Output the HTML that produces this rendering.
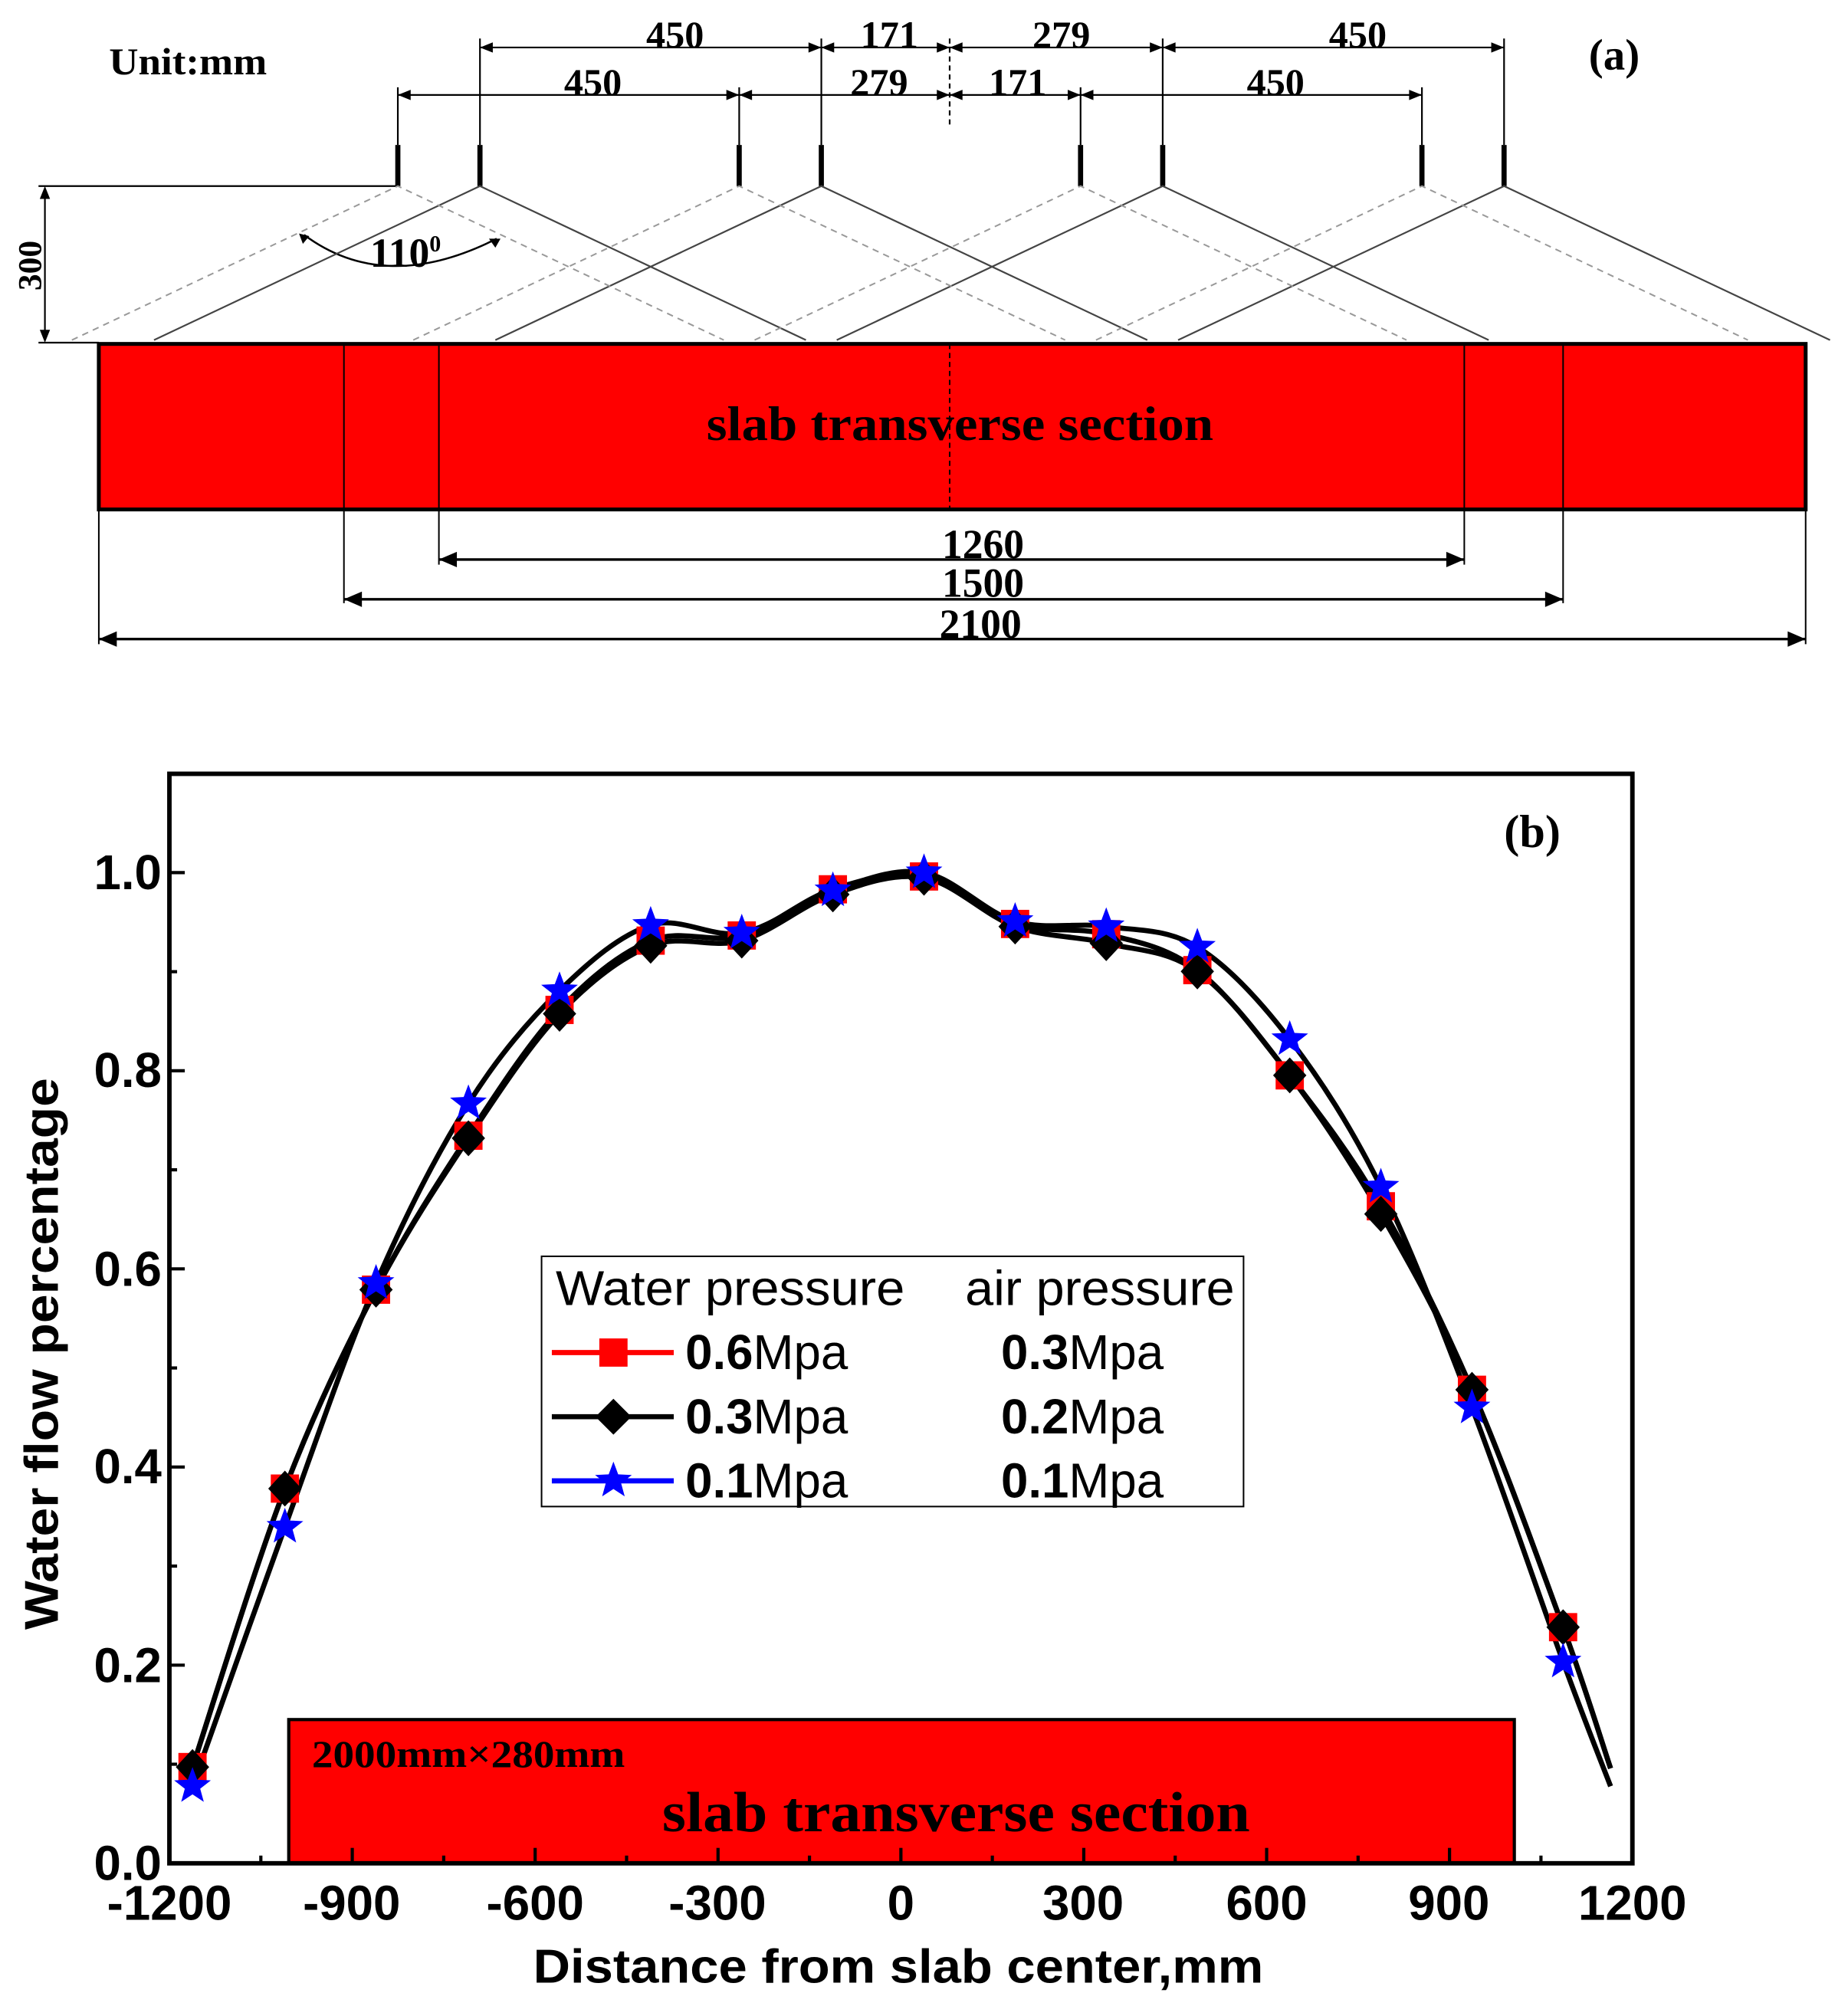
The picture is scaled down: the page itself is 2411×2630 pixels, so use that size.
<!DOCTYPE html>
<html><head><meta charset="utf-8"><style>html,body{margin:0;padding:0;background:#fff}svg{display:block}</style></head>
<body>
<svg id="s" xmlns="http://www.w3.org/2000/svg" width="2411" height="2630" viewBox="0 0 1440 1571" preserveAspectRatio="none">
<rect width="1440" height="1571" fill="#fff"/>
<g font-family="Liberation Serif, serif" font-weight="bold" fill="#000">
<text x="85" y="58" font-size="30" textLength="123" lengthAdjust="spacingAndGlyphs">Unit:mm</text>
<text x="1238" y="54" font-size="34">(a)</text>
</g>
<g stroke="#000" stroke-width="1.3" fill="none">
<path d="M374 30V113M640 30V113M906 30V113M1172 30V113M310 68V113M576 68V113M842 68V113M1108 68V113"/>
<path d="M740 30V100" stroke-dasharray="4,3"/>
<path d="M374 37H640M640 37H740M740 37H906M906 37H1172M310 74H576M576 74H740M740 74H842M842 74H1108"/>
<path d="M30 145H310M35 147V265M30 267H77"/>
</g>
<g fill="#000">
<path d="M374 37l10-4v8zM640 37l-10-4v8zM640 37l10-4v8zM740 37l-10-4v8zM740 37l10-4v8zM906 37l-10-4v8zM906 37l10-4v8zM1172 37l-10-4v8z"/>
<path d="M310 74l10-4v8zM576 74l-10-4v8zM576 74l10-4v8zM740 74l-10-4v8zM740 74l10-4v8zM842 74l-10-4v8zM842 74l10-4v8zM1108 74l-10-4v8z"/>
<path d="M35 145l-4 10h8zM35 267l-4-10h8z"/>
<path d="M233 182l8 2l-5 6zM390 186l-9 0l5 7z"/>
</g>
<g stroke="#000" stroke-width="4">
<path d="M310 113V145M374 113V145M576 113V145M640 113V145M842 113V145M906 113V145M1108 113V145M1172 113V145"/>
</g>
<g font-family="Liberation Serif, serif" font-weight="bold" font-size="30" fill="#000" text-anchor="middle">
<text x="526" y="37">450</text><text x="693" y="37">171</text><text x="827" y="37">279</text><text x="1058" y="37">450</text>
<text x="462" y="74">450</text><text x="685" y="74">279</text><text x="793" y="74">171</text><text x="994" y="74">450</text>
<text x="316" y="208" font-size="32">110<tspan font-size="18" dy="-12">0</tspan></text>
<text transform="translate(32,207) rotate(-90)" font-size="26">300</text>
</g>
<path d="M237 183Q300 230 387 186" stroke="#000" stroke-width="1.5" fill="none"/>
<g stroke="#444" stroke-width="1.3" fill="none">
<path d="M120 265L374 145L628 265M386 265L640 145L894 265M652 265L906 145L1160 265M918 265L1172 145L1426 265"/>
</g>
<g stroke="#999" stroke-width="1.2" fill="none" stroke-dasharray="5,4">
<path d="M56 265L310 145L564 265M322 265L576 145L830 265M588 265L842 145L1096 265M854 265L1108 145L1362 265"/>
</g>
<rect x="77" y="268" width="1330" height="129" fill="#ff0000" stroke="#000" stroke-width="3"/>
<g stroke="#000" stroke-width="1.2">
<path d="M268 268V470M342 268V440M1141 268V440M1218 268V470M77 397V502M1407 397V502"/>
<path d="M740 268V397" stroke-dasharray="4,3"/>
<path d="M342 436H1141M268 467H1218M77 498H1407" stroke-width="2"/>
</g>
<g fill="#000">
<path d="M342 436l14-6v12zM1141 436l-14-6v12zM268 467l14-6v12zM1218 467l-14-6v12zM77 498l14-6v12zM1407 498l-14-6v12z"/>
</g>
<g font-family="Liberation Serif, serif" font-weight="bold" fill="#000" text-anchor="middle">
<text x="748" y="343" font-size="38" textLength="395" lengthAdjust="spacingAndGlyphs">slab transverse section</text>
<text x="766" y="435" font-size="32">1260</text>
<text x="766" y="465" font-size="32">1500</text>
<text x="764" y="497" font-size="32">2100</text>
</g>

<rect x="225" y="1340" width="955" height="112" fill="#ff0000" stroke="#000" stroke-width="2.5"/>
<g font-family="Liberation Serif, serif" font-weight="bold" fill="#000">
<text x="243" y="1377" font-size="30" textLength="244" lengthAdjust="spacingAndGlyphs">2000mm×280mm</text>
<text x="745" y="1427" font-size="44" text-anchor="middle" textLength="458" lengthAdjust="spacingAndGlyphs">slab transverse section</text>
<text x="1172" y="660" font-size="36">(b)</text>
</g>
<g id="curves"></g>
<rect x="132" y="603" width="1140" height="849" fill="none" stroke="#000" stroke-width="3.5"/>
<g id="ticks" stroke="#000" stroke-width="2.5"></g>
<g font-family="Liberation Sans, sans-serif" font-weight="bold" font-size="38" fill="#000">
<g text-anchor="end">
<text x="126" y="1465">0.0</text><text x="126" y="1311">0.2</text><text x="126" y="1156">0.4</text>
<text x="126" y="1002">0.6</text><text x="126" y="847">0.8</text><text x="126" y="693">1.0</text>
</g>
<g text-anchor="middle">
<text x="132" y="1496">-1200</text><text x="274" y="1496">-900</text><text x="417" y="1496">-600</text>
<text x="559" y="1496">-300</text><text x="702" y="1496">0</text><text x="844" y="1496">300</text>
<text x="987" y="1496">600</text><text x="1129" y="1496">900</text><text x="1272" y="1496">1200</text>
<text x="700" y="1545" font-size="37" textLength="569" lengthAdjust="spacingAndGlyphs">Distance from slab center,mm</text>
<text transform="translate(45,1055) rotate(-90)" font-size="37" textLength="430" lengthAdjust="spacingAndGlyphs">Water flow percentage</text>
</g>
</g>
<rect x="422" y="979" width="547" height="195" fill="#fff" stroke="#000" stroke-width="1.2"/>
<g font-family="Liberation Sans, sans-serif" font-size="38" fill="#000">
<text x="433" y="1017" textLength="272" lengthAdjust="spacingAndGlyphs">Water pressure</text><text x="752" y="1017" textLength="210" lengthAdjust="spacingAndGlyphs">air pressure</text>
<text x="534" y="1067"><tspan font-weight="bold">0.6</tspan>Mpa</text><text x="780" y="1067"><tspan font-weight="bold">0.3</tspan>Mpa</text>
<text x="534" y="1117"><tspan font-weight="bold">0.3</tspan>Mpa</text><text x="780" y="1117"><tspan font-weight="bold">0.2</tspan>Mpa</text>
<text x="534" y="1167"><tspan font-weight="bold">0.1</tspan>Mpa</text><text x="780" y="1167"><tspan font-weight="bold">0.1</tspan>Mpa</text>
</g>
<g stroke-width="4">
<path d="M430 1054H525" stroke="#f00"/><rect x="467" y="1043" width="22" height="22" fill="#f00"/>
<path d="M430 1104H525" stroke="#000"/><path d="M478 1090L492 1104L478 1118L464 1104Z" fill="#000"/>
<path d="M430 1154H525" stroke="#00f"/>
<path id="lstar" fill="#00f" d=""/>
</g>
</svg>
<script>
var xs=[150,222,293,365,436,507,578,649,720,791,862,933,1005,1076,1147,1218];
var R=[1377,1160,1005,885,787,733,729,693,683,720,728,756,838,940,1083,1268];
var B=[1377,1160,1005,887,790,737,733,697,684,722,735,757,838,946,1083,1268];
var U=[1392,1190,1000,860,772,721,727,694,680,718,722,738,810,925,1097,1295];
function path(ys,endY){var p=xs.map(function(x,i){return [x,ys[i]]});p.push([1255,endY]);
var d="M"+p[0][0]+" "+p[0][1];
for(var i=0;i<p.length-1;i++){var p0=p[i-1]||p[i],p1=p[i],p2=p[i+1],p3=p[i+2]||p2;
d+="C"+(p1[0]+(p2[0]-p0[0])/6)+" "+(p1[1]+(p2[1]-p0[1])/6)+" "+(p2[0]-(p3[0]-p1[0])/6)+" "+(p2[1]-(p3[1]-p1[1])/6)+" "+p2[0]+" "+p2[1];}
return d;}
function star(cx,cy,r){var d="";for(var i=0;i<10;i++){var a=-Math.PI/2+i*Math.PI/5,rr=i%2?r*0.42:r;d+=(i?"L":"M")+(cx+rr*Math.cos(a)).toFixed(1)+" "+(cy+rr*Math.sin(a)).toFixed(1);}return d+"Z";}
var g=document.getElementById("curves"),h="";
h+='<path d="'+path(R,1378)+'" stroke="#000" stroke-width="4" fill="none"/>';
h+='<path d="'+path(U,1392)+'" stroke="#000" stroke-width="4" fill="none"/>';
h+='<path d="'+path(B,1378)+'" stroke="#000" stroke-width="4" fill="none"/>';
xs.forEach(function(x,i){h+='<rect x="'+(x-11)+'" y="'+(R[i]-11)+'" width="22" height="22" fill="#f00"/>';});
xs.forEach(function(x,i){h+='<path d="M'+x+' '+(B[i]-14)+'L'+(x+13)+' '+B[i]+'L'+x+' '+(B[i]+14)+'L'+(x-13)+' '+B[i]+'Z" fill="#000"/>';});
xs.forEach(function(x,i){h+='<path d="'+star(x,U[i],15)+'" fill="#00f"/>';});
g.innerHTML=h;
document.getElementById("lstar").setAttribute("d",star(478,1154,15));
var t="";
for(var k=0;k<=16;k++){var x=132+k*71.25;var L=(k%2==0)?12:6;t+='<path d="M'+x+' 1452V'+(1452-L)+'"/>';}
for(var k=0;k<=11;k++){var y=1452-k*77.2;var L=(k%2==0)?12:6;t+='<path d="M132 '+y+'H'+(132+L)+'"/>';}
document.getElementById("ticks").innerHTML=t;
</script>
</body></html>
